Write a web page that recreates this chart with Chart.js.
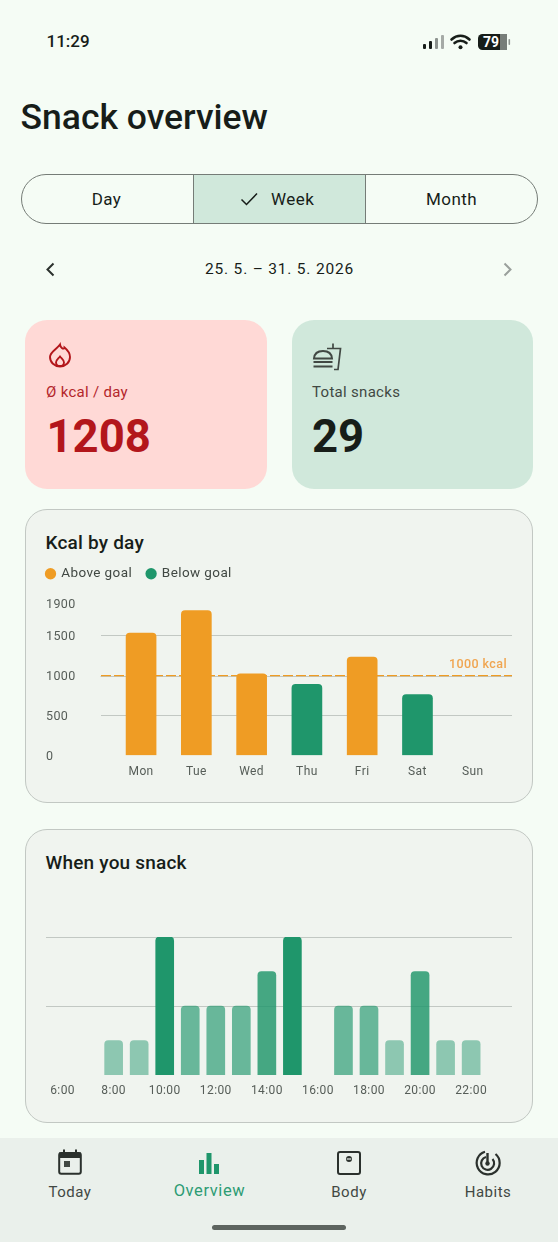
<!DOCTYPE html>
<html><head><meta charset="utf-8">
<script src="https://cdn.jsdelivr.net/npm/chart.js@4"></script>
<style>
html,body{margin:0;padding:0;background:#F5FCF5;width:558px;height:1242px;overflow:hidden;font-family:Roboto,sans-serif;color:#171D19}
.a{position:absolute;white-space:nowrap;line-height:1}
.c{transform:translateX(-50%)}
.box{position:absolute;box-sizing:border-box}
canvas{position:absolute;display:block}
svg{position:absolute;overflow:visible}
</style></head><body>
<div class="a" style="left:46.5px;top:33px;font-size:17px;font-weight:500">11:29</div>
<svg style="left:422px;top:33px" width="90" height="18" viewBox="0 0 90 18">
 <rect x="1" y="11" width="3" height="5" rx="1" fill="#171D19"/><rect x="7" y="8" width="3" height="8" rx="1" fill="#171D19"/><rect x="13" y="5" width="3" height="11" rx="1" fill="#8d938f"/><rect x="19" y="2" width="3" height="14" rx="1" fill="#a5aaa6"/>
 <path d="M29.5 6.5C35 1.5 42 1.5 47.5 6.5M32.5 10C36 7 41 7 44.5 10" fill="none" stroke="#171D19" stroke-width="2.6" stroke-linecap="round"/><circle cx="38.5" cy="14.2" r="2" fill="#171D19"/>
 <rect x="56" y="1" width="29" height="16" rx="4.5" fill="#171D19"/><rect x="78" y="1" width="7" height="16" fill="#777d79"/><rect x="86.5" y="6" width="1.6" height="6" rx=".8" fill="#8d938f"/>
 <text x="69" y="14" font-family="Roboto" font-size="14" font-weight="700" fill="#fff" text-anchor="middle">79</text>
</svg>
<div class="a" style="left:20.5px;top:100px;font-size:35.5px;font-weight:500">Snack overview</div>

<div class="box" style="left:20.5px;top:174px;width:517px;height:50px;border:1px solid #757C77;border-radius:25px;overflow:hidden">
 <div class="box" style="left:171px;top:0;width:173px;height:48px;background:#D0E8DB;border-left:1px solid #757C77;border-right:1px solid #757C77"></div>
</div>
<div class="a c" style="left:106.5px;top:191px;font-size:17px;letter-spacing:.4px">Day</div>
<svg style="left:240px;top:191px" width="18" height="16" viewBox="0 0 18 16"><path d="M1.5 8.5L6.5 13.5L17 2.5" fill="none" stroke="#171D19" stroke-width="1.5"/></svg>
<div class="a" style="left:271px;top:191px;font-size:17px;letter-spacing:.5px">Week</div>
<div class="a c" style="left:451.5px;top:191px;font-size:17px;letter-spacing:.4px">Month</div>

<svg style="left:45px;top:262px" width="10" height="15" viewBox="0 0 10 15"><path d="M8.5 1.5L2.5 7.5L8.5 13.5" fill="none" stroke="#2b312d" stroke-width="2"/></svg>
<div class="a c" style="left:279.5px;top:262px;font-size:15.5px;letter-spacing:.8px">25. 5. – 31. 5. 2026</div>
<svg style="left:503px;top:262px" width="10" height="15" viewBox="0 0 10 15"><path d="M1.5 1.5L7.5 7.5L1.5 13.5" fill="none" stroke="#9aa09c" stroke-width="2"/></svg>

<div class="box" style="left:25px;top:320px;width:242px;height:169px;background:#FFD9D6;border-radius:22px"></div>
<svg style="left:49px;top:343px" width="22" height="25" viewBox="0 0 22 25"><path d="M11 1.5C11.5 5 14 6 15 5.5C15.5 5 15.5 4.5 15.5 4.5C18.5 7 21 10 21 14C21 19.5 16.5 23.5 11 23.5C5.5 23.5 1 19.5 1 14C1 9 6.5 7.5 11 1.5Z" fill="none" stroke="#B3161B" stroke-width="1.9"/><path d="M11 13.5C12.5 15.5 15 17 15 19.5C15 21.5 13 23 11 23C9 23 7 21.5 7 19.5C7 17 9.5 15.5 11 13.5Z" fill="none" stroke="#B3161B" stroke-width="1.9"/></svg>
<div class="a" style="left:46px;top:385px;font-size:15px;letter-spacing:.3px;color:#B3262B">Ø kcal / day</div>
<div class="a" style="left:46.5px;top:414px;font-size:45.5px;font-weight:700;color:#B3161B">1208</div>

<div class="box" style="left:292px;top:320px;width:241px;height:169px;background:#D0E8DB;border-radius:22px"></div>
<svg style="left:313px;top:343px" width="28" height="27" viewBox="0 0 28 27"><path d="M1 15.5C1.5 9.5 5.5 8 10 8C14.5 8 18.5 9.5 19 15.5ZM0.5 19H19.5M0.5 23.5H19.5" fill="none" stroke="#414843" stroke-width="2"/><path d="M14 5.5H27.5L25 26.5H21M20 5.5V0.5" fill="none" stroke="#414843" stroke-width="1.7"/></svg>
<div class="a" style="left:312px;top:385px;font-size:15px;letter-spacing:.3px;color:#414843">Total snacks</div>
<div class="a" style="left:312px;top:414px;font-size:45.5px;font-weight:700;color:#171D19">29</div>

<div class="box" style="left:25px;top:509px;width:508px;height:294px;background:#F0F4EF;border:1px solid #C2C8C3;border-radius:22px"></div>
<div class="a" style="left:45.5px;top:532.5px;font-size:19px;font-weight:500;letter-spacing:.2px">Kcal by day</div>
<canvas id="kcal" width="472" height="228" style="left:40px;top:552px"></canvas>

<div class="box" style="left:25px;top:829px;width:508px;height:294px;background:#F0F4EF;border:1px solid #C2C8C3;border-radius:22px"></div>
<div class="a" style="left:45.5px;top:852.5px;font-size:19px;font-weight:500;letter-spacing:.2px">When you snack</div>
<canvas id="hours" width="470" height="170" style="left:42px;top:930px"></canvas>

<div class="box" style="left:0;top:1138px;width:558px;height:104px;background:#EAF0EB"></div>
<svg style="left:58px;top:1149px" width="24" height="26" viewBox="0 0 24 26"><rect x="1.2" y="4" width="21.6" height="20.8" rx="2" fill="none" stroke="#2b312d" stroke-width="2"/><rect x="1" y="3.5" width="22" height="5.5" fill="#2b312d"/><rect x="5" y="0.5" width="2" height="4" fill="#2b312d"/><rect x="17" y="0.5" width="2" height="4" fill="#2b312d"/><rect x="6" y="12" width="6" height="6" fill="#414843"/></svg>
<svg style="left:198px;top:1153px" width="22" height="22" viewBox="0 0 22 22"><g fill="#1F966B"><rect x="1" y="7" width="5" height="14"/><rect x="8.5" y="0" width="5" height="21"/><rect x="16" y="11" width="5" height="10"/></g></svg>
<svg style="left:337px;top:1151px" width="24" height="24" viewBox="0 0 24 24"><rect x="1" y="1" width="22" height="22" rx="2" fill="none" stroke="#2b312d" stroke-width="2"/><circle cx="12" cy="8" r="3" fill="#2b312d"/><rect x="9.8" y="7.4" width="4.4" height="1.2" fill="#EAF0EB"/></svg>
<svg style="left:475px;top:1150px" width="26" height="26" viewBox="0 0 26 26"><path d="M10 1.8A11.5 11.5 0 1 0 20.5 4" fill="none" stroke="#2b312d" stroke-width="2.2"/><path d="M11 7A6.5 6.5 0 1 0 17.5 9" fill="none" stroke="#2b312d" stroke-width="2.2"/><path d="M12.5 3V13" stroke="#2b312d" stroke-width="2.4"/><circle cx="12.5" cy="13.5" r="2.2" fill="#2b312d"/></svg>
<div class="a c" style="left:70px;top:1185px;font-size:15px;letter-spacing:.5px;color:#414843">Today</div>
<div class="a c" style="left:209.5px;top:1183px;font-size:16.5px;letter-spacing:.6px;color:#2E9C74">Overview</div>
<div class="a c" style="left:349px;top:1185px;font-size:15px;letter-spacing:.5px;color:#414843">Body</div>
<div class="a c" style="left:488px;top:1185px;font-size:15px;letter-spacing:.5px;color:#414843">Habits</div>
<div class="box" style="left:212px;top:1225px;width:134px;height:4.5px;border-radius:3px;background:#5D645F"></div>

<script>
const days = ['Mon','Tue','Wed','Thu','Fri','Sat','Sun'];
const kcalPerDay = [1530,1810,1020,890,1230,760,0];
const yTicks = [0,500,1000,1500,1900];
const goalKcal = 1000;
const goalLabel = '1000 kcal';
const legendLabels = ['Above goal','Below goal'];
const hourLabels = ['6:00','7:00','8:00','9:00','10:00','11:00','12:00','13:00','14:00','15:00','16:00','17:00','18:00','19:00','20:00','21:00','22:00'];
const snacksPerHour = [0,0,1,1,4,2,2,2,3,4,0,2,2,1,3,1,1];
const hourGrid = [2,4];

const ORANGE='#EF9C24', GREEN='#1F966B', GRID='#C2C8C3', TICK='#565D58';
Chart.defaults.font.family='Roboto';
Chart.defaults.animation=false;
const spacing=s=>({id:'sp',beforeDraw(c){c.ctx.letterSpacing=s}});

new Chart(document.getElementById('kcal'),{
  type:'bar',
  data:{labels:days,datasets:[{
    data:kcalPerDay.map((y,x)=>({x,y:y||null})),
    barThickness:30,
    borderRadius:{topLeft:4,topRight:4},
    backgroundColor:c=>c.parsed.y>goalKcal?ORANGE:GREEN
  }]},
  options:{
    responsive:false,
    layout:{padding:{left:6}},
    plugins:{
      tooltip:{enabled:false},
      legend:{position:'top',align:'start',labels:{
        color:'#414843',font:{size:13.5},padding:15,boxWidth:8,boxHeight:8,usePointStyle:true,
        generateLabels:()=>legendLabels.map((text,i)=>({text,fontColor:'#414843',fillStyle:i?GREEN:ORANGE,strokeStyle:i?GREEN:ORANGE,lineWidth:0,pointStyle:'circle',hidden:false,datasetIndex:0}))
      }}
    },
    scales:{
      x:{type:'linear',offset:false,min:-0.734,max:6.71,
        afterBuildTicks:a=>{a.ticks=days.map((_,i)=>({value:i}))},
        afterFit:s=>{s.height=24.5},
        grid:{display:false,drawTicks:false},border:{display:false},
        ticks:{autoSkip:false,maxRotation:0,padding:9,color:TICK,font:{size:12},callback:v=>days[v]}},
      y:{min:0,max:1900,
        afterBuildTicks:a=>{a.ticks=yTicks.map(value=>({value}))},
        afterFit:s=>{s.width=54.5},
        border:{display:false,dash:c=>c.tick&&c.tick.value===goalKcal?[10,3]:[]},
        grid:{drawTicks:false,
          lineWidth:c=>c.tick.value===goalKcal?1.2:1,
          color:c=>{const v=c.tick.value;return v===goalKcal?'#EF9C24':(v===500||v===1500)?GRID:'transparent'}},
        ticks:{crossAlign:'far',padding:0,labelOffset:1,color:TICK,font:{size:12.5},callback:v=>v}}
    }
  },
  plugins:[spacing('0.4px'),{
    id:'legendShift',
    beforeLayout(c){
      const l=c.legend;
      if(!l._extra){l._extra=true;const f=l.fit;l.fit=function(){f.call(this);this.height+=13}}
    },
    afterLayout(c){c.legend.left=c.options.layout.padding.left-14.5}
  },{
    id:'goalLabel',
    beforeDraw(c){
      const g=c.ctx,y=Math.round(c.scales.y.getPixelForValue(goalKcal))+.5;
      g.save();g.strokeStyle=GRID;g.lineWidth=1;g.beginPath();g.moveTo(c.chartArea.left,y);g.lineTo(c.chartArea.right,y);g.stroke();g.restore();
    },
    afterDatasetsDraw(c){
      const g=c.ctx;g.save();g.font='500 12.5px Roboto';g.fillStyle='#F0A550';g.textAlign='right';g.textBaseline='middle';
      g.fillText(goalLabel,c.chartArea.right-5,c.scales.y.getPixelForValue(goalKcal)-11);g.restore();
    }
  }]
});

new Chart(document.getElementById('hours'),{
  type:'bar',
  data:{labels:hourLabels,datasets:[{
    data:snacksPerHour.map((y,x)=>({x,y:y||null})),
    barThickness:18,
    borderRadius:{topLeft:4,topRight:4},
    backgroundColor:c=>{const a=0.3+0.7*c.parsed.y/4;return 'rgba(31,150,107,'+a+')'}
  }]},
  options:{
    responsive:false,
    layout:{padding:{top:7}},
    plugins:{legend:{display:false},tooltip:{enabled:false}},
    scales:{
      x:{type:'linear',offset:false,min:-0.66,max:17.6,
        afterBuildTicks:a=>{a.ticks=hourLabels.map((_,i)=>({value:i})).filter(t=>t.value%2===0)},
        afterFit:s=>{s.height=25},
        grid:{display:false,drawTicks:false},border:{display:false},
        ticks:{autoSkip:false,maxRotation:0,padding:9,color:TICK,font:{size:12},callback:v=>hourLabels[v]}},
      y:{display:true,min:0,max:4,
        afterBuildTicks:a=>{a.ticks=hourGrid.map(value=>({value}))},
        afterFit:s=>{s.width=0},
        border:{display:false},
        grid:{drawTicks:false,color:GRID},
        ticks:{display:false}}
    }
  },
  plugins:[spacing('0.4px')]
});
</script>
</body></html>
